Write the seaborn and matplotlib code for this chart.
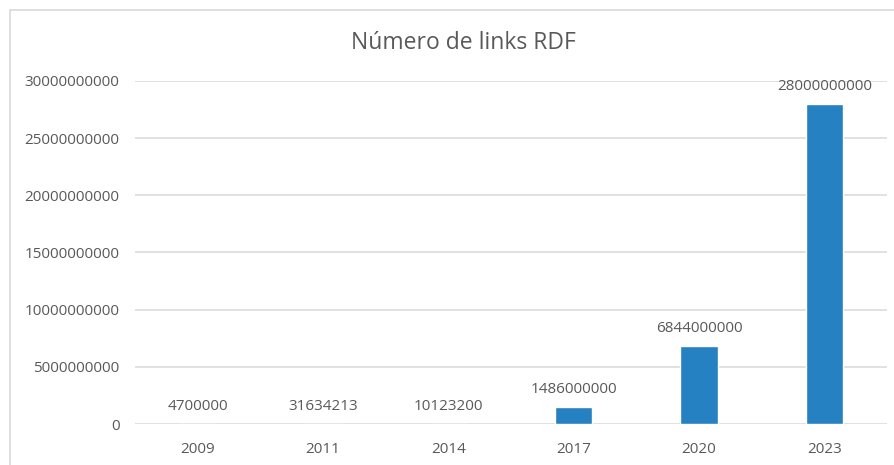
import matplotlib
matplotlib.use("Agg")
import matplotlib.pyplot as plt
import matplotlib.ticker as mticker
from matplotlib.lines import Line2D
import seaborn as sns
import pandas as pd

# Number of RDF links per year
years = ["2009", "2011", "2014", "2017", "2020", "2023"]
links = [4700000, 31634213, 10123200, 1486000000, 6844000000, 28000000000]
y_ticks = [0, 5000000000, 10000000000, 15000000000, 20000000000, 25000000000, 30000000000]

df = pd.DataFrame({"year": years, "links": links})

sns.set_theme(style="white")
plt.rcParams["font.family"] = ["Open Sans", "DejaVu Sans"]

text_color = "#595959"
grid_color = "#D9D9D9"
bar_color = "#2681C2"

fig = plt.figure(figsize=(8.95, 4.65), dpi=100)
ax = fig.add_axes([135 / 895, 1 - 424 / 465, (887 - 135) / 895, (424 - 81) / 465])

sns.barplot(data=df, x="year", y="links", color=bar_color, width=0.3,
            saturation=1, ax=ax, zorder=3)

ax.set_ylim(y_ticks[0], y_ticks[-1])
ax.set_yticks(y_ticks)
ax.yaxis.set_major_formatter(mticker.FuncFormatter(lambda v, _: f"{int(v)}"))
ax.set_xlabel("")
ax.set_ylabel("")

for gy in y_ticks:
    ax.axhline(gy, color=grid_color, lw=1.1, zorder=1)

for s in ax.spines.values():
    s.set_visible(False)

ax.tick_params(axis="both", length=0, labelsize=11, colors=text_color)
ax.tick_params(axis="y", pad=11)
ax.tick_params(axis="x", pad=13)

for i, v in enumerate(links):
    ax.annotate(f"{v}", (i, v), xytext=(0, 7), textcoords="offset points",
                ha="center", va="bottom", fontsize=11, color=text_color)

fig.text(463 / 895, 1 - 43 / 465, "Número de links RDF", ha="center", va="center",
         fontsize=16.5, color=text_color)

# Chart frame edges (top and left)
fig.add_artist(Line2D([10 / 895, 1], [1 - 10 / 465, 1 - 10 / 465],
                      transform=fig.transFigure, color=grid_color, lw=1.2))
fig.add_artist(Line2D([10 / 895, 10 / 895], [0, 1 - 10 / 465],
                      transform=fig.transFigure, color=grid_color, lw=1.2))

fig.savefig("out.png", dpi=100, facecolor="white")
